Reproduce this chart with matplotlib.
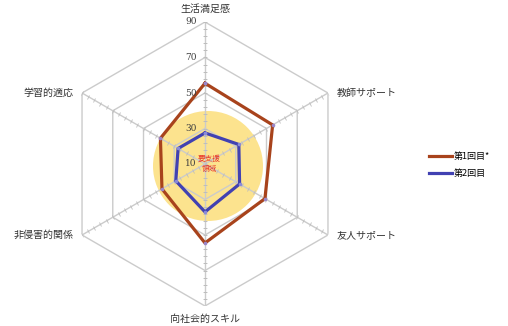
import numpy as np
import matplotlib
matplotlib.use("Agg")
import matplotlib.pyplot as plt
from matplotlib.markers import MarkerStyle
from matplotlib.transforms import Affine2D
from matplotlib.patches import Circle

plt.rcParams['font.family'] = ['Noto Sans CJK JP', 'DejaVu Sans']

categories = ['生活満足感', '教師サポート', '友人サポート', '向社会的スキル', '非侵害的関係', '学習的適応']
series1 = [55.5, 54, 49, 54.5, 38, 39]
series2 = [27.5, 32, 32.5, 37, 29, 27.5]
series_names = ['第1回目*', '第2回目']
tick_values = [10, 30, 50, 70, 90]
rmin, rmax = 10, 90
zone_label = '要支援\n領域'

W, H = 508, 326
fig = plt.figure(figsize=(W / 100, H / 100), dpi=100)
cx, cy, R = 205, 164, 142
ax = fig.add_axes([(cx - R) / W, (H - cy - R) / H, 2 * R / W, 2 * R / H], projection='polar')
ax.set_theta_offset(np.pi / 2)
ax.set_theta_direction(-1)
ax.set_ylim(rmin, rmax)
ax.set_axis_off()

n = len(categories)
angles = np.arange(n) * 2 * np.pi / n
closed = np.append(angles, angles[0])

# support zone circle (slightly off-centre as in the reference)
ax.add_patch(Circle((0.5 + 3 / 284, 0.5 - 2 / 284), 55 / 284, transform=ax.transAxes,
                    facecolor='#FCE38E', edgecolor='none', zorder=1))

# grid rings
grid_c = '#CBCBCB'
for v in tick_values[1:]:
    ax.plot(closed, [v] * (n + 1), color=grid_c, lw=1.0, zorder=2)
# spokes and minor ticks
minor = np.arange(rmin, rmax + 0.1, 4)
for a in angles:
    ax.plot([a, a], [rmin, rmax], color=grid_c, lw=1.0, zorder=2)
    disp_ang = 90 - np.degrees(a)
    m = MarkerStyle('_', transform=Affine2D().rotate_deg(disp_ang - 90))
    ax.plot([a] * len(minor), minor, ls='none', marker=m, ms=3, mew=0.6, color='#BDBDBD', zorder=2)

# series
l1, = ax.plot(closed, series1 + series1[:1], color='#A8431C', lw=2.3, zorder=4,
              marker='o', ms=1.6, mfc='#9A86C8', mec='#9A86C8', label=series_names[0])
l2, = ax.plot(closed, series2 + series2[:1], color='#4141B2', lw=2.3, zorder=4,
              marker='o', ms=1.6, mfc='#8A8AD8', mec='#8A8AD8', label=series_names[1])

# tick labels on top spoke
for v in tick_values:
    ax.annotate(str(v), xy=(0, v), xytext=(-6, 0), textcoords='offset points',
                ha='right', va='center', fontsize=6.5, color='#404040', zorder=5,
                family=['DejaVu Serif'])

# category labels
offsets = [(0, 6), (6, 0), (6, 0), (0, -6), (-6, 0), (-6, 0)]
aligns = [('center', 'bottom'), ('left', 'center'), ('left', 'center'),
          ('center', 'top'), ('right', 'center'), ('right', 'center')]
for a, lab, off, al in zip(angles, categories, offsets, aligns):
    ax.annotate(lab, xy=(a, rmax), xytext=off, textcoords='offset points',
                ha=al[0], va=al[1], fontsize=7.2, color='#333333', annotation_clip=False)

ax.annotate(zone_label, xy=(0, rmin), xytext=(3, 0), textcoords='offset points',
            ha='center', va='center', fontsize=5.5, color='#E8362A',
            zorder=6, linespacing=1.3)

fig.legend(handles=[l1, l2], loc='center left', bbox_to_anchor=(425 / W, 1 - 165 / H),
           frameon=False, fontsize=6.5, handlelength=2.6, handletextpad=0.2,
           labelspacing=0.9, borderaxespad=0)
for h in fig.legends[0].legend_handles:
    h.set_marker('')

fig.savefig('out.png', dpi=100)
